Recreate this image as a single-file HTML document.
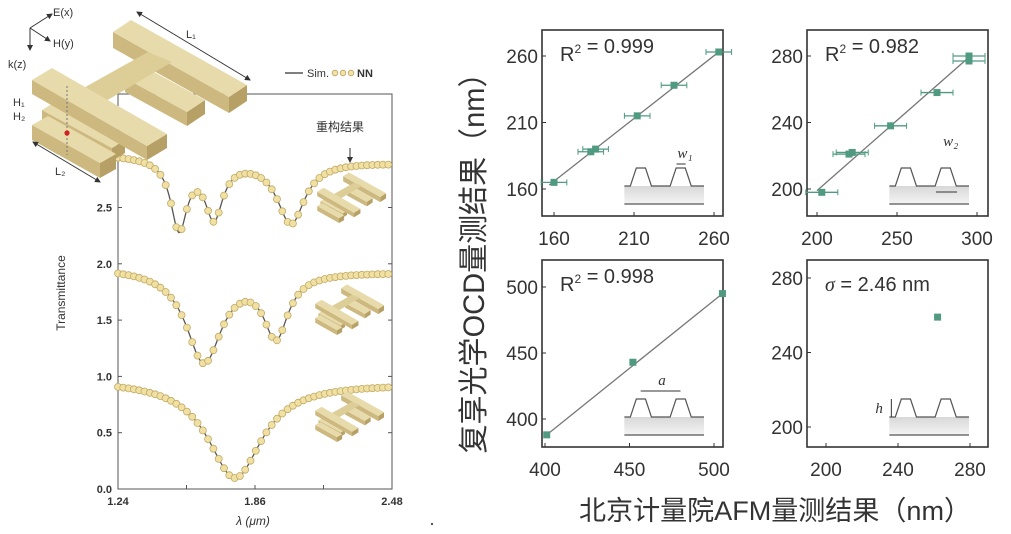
<!DOCTYPE html>
<html><head><meta charset="utf-8"><style>
html,body{margin:0;padding:0;background:#fff;}
svg{display:block;font-family:"Liberation Sans","Noto Sans CJK SC",sans-serif;}
</style></head><body>
<svg id="s" width="1011" height="534" viewBox="0 0 1011 534" xmlns="http://www.w3.org/2000/svg">
<defs>
<linearGradient id="gr" x1="0" y1="0" x2="0" y2="1"><stop offset="0" stop-color="#d8d8d8"/><stop offset="1" stop-color="#f4f4f4"/></linearGradient>
<marker id="ah" markerWidth="6" markerHeight="6" refX="5" refY="3" orient="auto"><path d="M0,0 L6,3 L0,6 z" fill="#333"/></marker>
<marker id="ah2" markerWidth="6" markerHeight="6" refX="1" refY="3" orient="auto"><path d="M6,0 L0,3 L6,6 z" fill="#333"/></marker>
</defs>
<g id="left"></g>
<g id="right"></g>
</svg>
<script>
var NS="http://www.w3.org/2000/svg";
function el(p,t,a,txt){var e=document.createElementNS(NS,t);for(var k in a)e.setAttribute(k,a[k]);if(txt!==undefined)e.textContent=txt;p.appendChild(e);return e;}
var L=document.getElementById('left'),R=document.getElementById('right');
/* ---------- left plot ---------- */
var X0=118,X1=392,Y0=489,K=112.6;
function yv(v){return Y0-K*v;}
el(L,'rect',{x:X0,y:94,width:X1-X0,height:Y0-94,fill:'none',stroke:'#555','stroke-width':1});
var yt=[[0,'0.0'],[0.5,'0.5'],[1,'1.0'],[1.5,'1.5'],[2,'2.0'],[2.5,'2.5']];
yt.forEach(function(t){var y=yv(t[0]);el(L,'line',{x1:X0,x2:X0+4,y1:y,y2:y,stroke:'#555'});el(L,'line',{x1:X1,x2:X1-4,y1:y,y2:y,stroke:'#555'});
el(L,'text',{x:X0-6,y:y+4,'text-anchor':'end','font-size':11,fill:'#333','font-weight':'bold'},t[1]);});
[0,0.25,0.5,0.75,1].forEach(function(f){var x=X0+f*(X1-X0);el(L,'line',{x1:x,x2:x,y1:Y0,y2:Y0-4,stroke:'#555'});});
[[0,'1.24'],[0.5,'1.86'],[1,'2.48']].forEach(function(t){el(L,'text',{x:X0+t[0]*(X1-X0),y:505,'text-anchor':'middle','font-size':11,fill:'#333','font-weight':'bold'},t[1]);});
el(L,'text',{x:253,y:525,'text-anchor':'middle','font-size':12,fill:'#333','font-style':'italic'},'λ (μm)');
el(L,'text',{transform:'translate(65,293) rotate(-90)','text-anchor':'middle','font-size':12,fill:'#333'},'Transmittance');
el(L,'line',{x1:285,x2:303,y1:73,y2:73,stroke:'#333','stroke-width':1.2});
el(L,'text',{x:307,y:77,'font-size':11,fill:'#333'},'Sim.');
[335,343,351].forEach(function(x,i){el(L,'circle',{cx:x,cy:73,r:2.8,fill:'#f2e2a6',stroke:'#b8a060','stroke-width':0.8});});
el(L,'text',{x:357,y:77,'font-size':11,fill:'#333','font-weight':'bold'},'NN');
el(L,'text',{x:316,y:131,'font-size':12,fill:'#333'},'重构结果');
function lor(x,x0,d,w){return d/(1+Math.pow((x-x0)/w,2));}
var curves=[
function(x){return 2.97-0.07*(x-118)/274-lor(x,179,0.62,10)-lor(x,214,0.5,11)-lor(x,291,0.56,17);},
function(x){return 1.97-0.04*(x-118)/274-lor(x,204,0.82,22)-lor(x,276,0.56,15);},
function(x){return 0.97-0.03*(x-118)/274-lor(x,235,0.86,33);}];
curves.forEach(function(f){var d='';for(var x=X0;x<=X1;x+=1){d+=(x==X0?'M':'L')+x+','+yv(f(x)).toFixed(1);}
el(L,'path',{d:d,fill:'none',stroke:'#555','stroke-width':1.3});
for(var x=X0;x<=X1+0.1;x+=5.3){el(L,'circle',{cx:x,cy:yv(f(x)).toFixed(1),r:3.5,fill:'#f0e0a2',stroke:'#c2aa68','stroke-width':0.8});}});
el(L,'line',{x1:350,x2:350,y1:148,y2:162,stroke:'#333','marker-end':'url(#ah)'});
/* 3D bars */
function box(g,O,Lv,W,h){var A=O,B=[O[0]+Lv[0],O[1]+Lv[1]],C=[B[0]+W[0],B[1]+W[1]],D=[O[0]+W[0],O[1]+W[1]];
function p(a){return a.map(function(q){return q[0]+','+q[1];}).join(' ');}
el(g,'polygon',{points:p([A,B,[B[0],B[1]+h],[A[0],A[1]+h]]),fill:'#cdb97f'});
el(g,'polygon',{points:p([B,C,[C[0],C[1]+h],[B[0],B[1]+h]]),fill:'#b7a065'});
el(g,'polygon',{points:p([A,B,C,D]),fill:'#e8dbab'});}
function struct(g,ox,oy,s,dot){var G=el(g,'g',{transform:'translate('+ox+','+oy+') scale('+s+')'});
box(G,[42,110],[70,38],[13,-8],13);
box(G,[32,125],[68,38],[16,-9],15);
box(G,[113,32],[116,65],[18,-12],16);
box(G,[125,78],[62,34],[18,-12],14);
el(G,'polygon',{points:'80,90 148,52 172,62 106,101',fill:'#ddcd97'});
box(G,[32,80],[115,66],[20,-12],14);
if(dot){el(G,'line',{x1:67,y1:86,x2:67,y2:155,stroke:'#777','stroke-dasharray':'2,2'});
el(G,'circle',{cx:67,cy:133,r:2.6,fill:'#d02020'});}
return G;}
struct(L,0,0,1,true);
struct(L,307,166,0.32);
struct(L,305,278,0.32);
struct(L,305,385,0.32);
/* annotations */
el(L,'line',{x1:30,y1:28,x2:52,y2:14,stroke:'#333','marker-end':'url(#ah)'});
el(L,'line',{x1:30,y1:28,x2:50,y2:41,stroke:'#333','marker-end':'url(#ah)'});
el(L,'line',{x1:30,y1:28,x2:30,y2:50,stroke:'#333','marker-end':'url(#ah)'});
el(L,'text',{x:53,y:16,'font-size':11,fill:'#333'},'E(x)');
el(L,'text',{x:53,y:47,'font-size':11,fill:'#333'},'H(y)');
el(L,'text',{x:8,y:68,'font-size':11,fill:'#333'},'k(z)');
el(L,'line',{x1:137,y1:12,x2:250,y2:80,stroke:'#333','marker-end':'url(#ah)','marker-start':'url(#ah2)'});
el(L,'text',{x:186,y:38,'font-size':11,fill:'#333'},'L₁');
el(L,'line',{x1:33,y1:142,x2:100,y2:182,stroke:'#333','marker-end':'url(#ah)','marker-start':'url(#ah2)'});
el(L,'text',{x:55,y:175,'font-size':11,fill:'#333'},'L₂');
el(L,'text',{x:13,y:106,'font-size':11,fill:'#333'},'H₁');
el(L,'text',{x:13,y:120,'font-size':11,fill:'#333'},'H₂');
/* ---------- right panels ---------- */
var teal='#4f9a80';
var P=[
{bx:[542,723],by:[30,216],xa:[160,554,260,714],ya:[260,56,160,189],xt:[160,210,260],ytk:[160,210,260],txt:'R²',val:' = 0.999',
 pts:[[160,165],[183,188],[186,190],[212,215],[235,238],[263,263]],line:[[157,163],[264,264]],eb:8,ins:'w1'},
{bx:[807,988],by:[30,216],xa:[200,817,300,977],ya:[280,56,200,189],xt:[200,250,300],ytk:[200,240,280],txt:'R²',val:' = 0.982',
 pts:[[203,198],[222,222],[220,221],[246,238],[275,258],[295,280],[295,277]],line:[[200,199],[297,281]],eb:10,ins:'w2'},
{bx:[542,723],by:[260,447],xa:[400,545,500,714],ya:[500,287,400,419],xt:[400,450,500],ytk:[400,450,500],txt:'R²',val:' = 0.998',
 pts:[[401,388],[452,443],[505,495]],line:[[401,388],[505,495]],eb:2,ins:'a'},
{bx:[807,988],by:[260,447],xa:[200,826,280,970],ya:[280,278,200,427],xt:[200,240,280],ytk:[200,240,280],txt:'σ',val:' = 2.46 nm',
 pts:[[262,259]],line:null,eb:1,ins:'h'}];
P.forEach(function(p){
function mx(v){return p.xa[1]+(v-p.xa[0])*(p.xa[3]-p.xa[1])/(p.xa[2]-p.xa[0]);}
function my(v){return p.ya[1]+(v-p.ya[0])*(p.ya[3]-p.ya[1])/(p.ya[2]-p.ya[0]);}
var bx=p.bx,by=p.by;
var ix=bx[0]+(bx[1]-bx[0])*0.455, iw=(bx[1]-bx[0])*0.44, base=by[1]-30;
el(R,'rect',{x:ix,y:base,width:iw,height:18,fill:'url(#gr)'});
el(R,'line',{x1:ix,x2:ix+iw,y1:by[1]-12,y2:by[1]-12,stroke:'#555','stroke-width':1.2});
var tw=iw/2, d='M'+ix+','+base;
[0,1].forEach(function(i){var s=ix+i*tw+tw*0.15;d+=' L'+s+','+base+' L'+(s+tw*0.15)+','+(base-18)+' L'+(s+tw*0.38)+','+(base-18)+' L'+(s+tw*0.53)+','+base;});
d+=' L'+(ix+iw)+','+base;
el(R,'path',{d:d,fill:'none',stroke:'#555','stroke-width':1.2});
var fi={'font-family':'"Liberation Serif",serif','font-style':'italic','font-size':15,fill:'#333'};
if(p.ins=='w1'){el(R,'line',{x1:ix+tw*1.31,x2:ix+tw*1.54,y1:base-22,y2:base-22,stroke:'#333'});el(R,'text',Object.assign({x:ix+tw*1.33,y:base-28},fi),'w₁');}
if(p.ins=='w2'){el(R,'line',{x1:ix+tw*1.17,x2:ix+tw*1.7,y1:base+6,y2:base+6,stroke:'#333'});el(R,'text',Object.assign({x:ix+tw*1.35,y:base-40},fi),'w₂');}
if(p.ins=='a'){el(R,'line',{x1:ix+tw*0.41,x2:ix+tw*1.41,y1:base-26,y2:base-26,stroke:'#333'});el(R,'text',Object.assign({x:ix+tw*0.85,y:base-32},fi),'a');}
if(p.ins=='h'){el(R,'line',{x1:ix+2,x2:ix+2,y1:base-18,y2:base,stroke:'#333'});el(R,'text',Object.assign({x:ix-14,y:base-4},fi),'h');}
el(R,'rect',{x:bx[0],y:by[0],width:bx[1]-bx[0],height:by[1]-by[0],fill:'none',stroke:'#333','stroke-width':1.6});
p.xt.forEach(function(v){var x=mx(v);el(R,'line',{x1:x,x2:x,y1:by[1],y2:by[1]-4,stroke:'#333'});
el(R,'text',{x:x,y:by[1]+29,'text-anchor':'middle','font-size':19,fill:'#333'},v);});
p.ytk.forEach(function(v){var y=my(v);el(R,'line',{x1:bx[0],x2:bx[0]+4,y1:y,y2:y,stroke:'#333'});
el(R,'text',{x:bx[0]-4,y:y+7,'text-anchor':'end','font-size':19,fill:'#333'},v);});
if(p.line)el(R,'line',{x1:mx(p.line[0][0]),y1:my(p.line[0][1]),x2:mx(p.line[1][0]),y2:my(p.line[1][1]),stroke:'#777','stroke-width':1.3});
p.pts.forEach(function(q){var x=mx(q[0]),y=my(q[1]),e=p.eb*(p.xa[3]-p.xa[1])/(p.xa[2]-p.xa[0]);
if(e>4){el(R,'line',{x1:x-e,x2:x+e,y1:y,y2:y,stroke:teal,'stroke-width':1.3});
el(R,'line',{x1:x-e,x2:x-e,y1:y-3,y2:y+3,stroke:teal});el(R,'line',{x1:x+e,x2:x+e,y1:y-3,y2:y+3,stroke:teal});}
el(R,'rect',{x:x-3.5,y:y-3.5,width:7,height:7,fill:teal});});
var t=el(R,'text',{x:bx[0]+18,y:by[0]+31,'font-size':20,fill:'#333'});
if(p.txt=='σ'){el(t,'tspan',{'font-family':'"Liberation Serif",serif','font-style':'italic'},'σ');}
else{el(t,'tspan',{},'R');el(t,'tspan',{dy:-8,'font-size':12},'2');el(t,'tspan',{dy:8},'');}
el(t,'tspan',{},p.val);
});
el(R,'text',{transform:'translate(484,256) rotate(-90)','text-anchor':'middle','font-size':30,fill:'#333',textLength:395,lengthAdjust:'spacingAndGlyphs'},'复享光学OCD量测结果（nm）');
el(R,'text',{x:775,y:520,'text-anchor':'middle','font-size':27,fill:'#333',textLength:392,lengthAdjust:'spacingAndGlyphs'},'北京计量院AFM量测结果（nm）');
el(R,'circle',{cx:432,cy:524,r:1.2,fill:'#555'});
</script>
</body></html>
